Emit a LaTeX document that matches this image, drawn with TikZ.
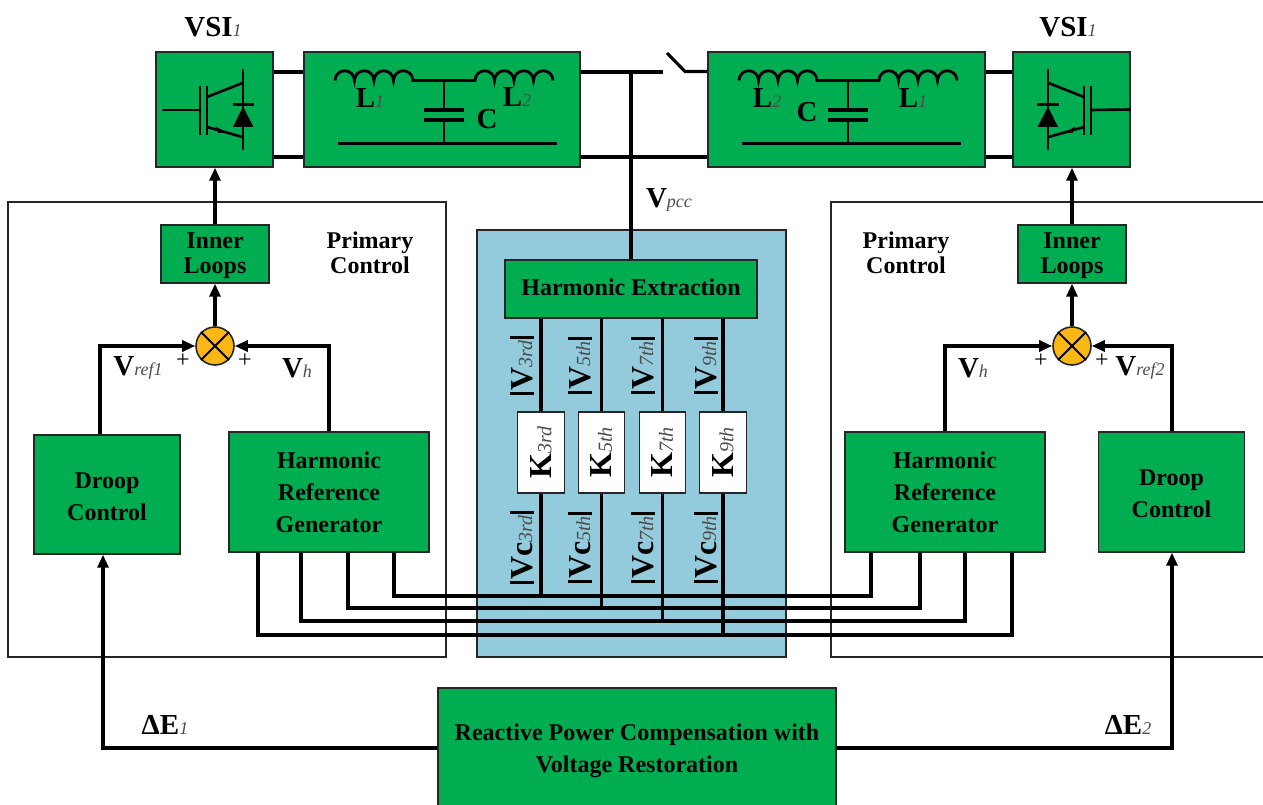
\documentclass[tikz,border=0pt]{standalone}
\usepackage{fontspec}
\setmainfont{Liberation Serif}
\usetikzlibrary{arrows.meta}
\definecolor{boxgreen}{HTML}{00AD50}
\definecolor{panelblue}{HTML}{93CBDC}
\definecolor{sumyellow}{HTML}{FBB815}
\newcommand{\lbl}[2]{{\fontsize{29}{29}\selectfont\bfseries #1}{\fontsize{18}{18}\selectfont\itshape\color{black!70}#2}}
\newcommand{\biglbl}[2]{{\fontsize{32}{32}\selectfont\bfseries #1}{\fontsize{20}{20}\selectfont\itshape\color{black!70}#2}}
\newcommand{\barlbl}[2]{\rule[-2pt]{3pt}{24pt}\kern1pt\biglbl{#1}{#2}\kern1pt\rule[-2pt]{3pt}{24pt}}
\tikzset{
    wire/.style={line width=3.1pt,line join=miter,>={Triangle[length=13pt,width=11pt]}},
    thinwire/.style={line width=1.5pt,black!85},
    gbox/.style={draw=black!85,fill=boxgreen,line width=1.4pt,inner sep=0pt,align=center,font=\fontsize{24}{32}\selectfont\bfseries},
    txt/.style={inner sep=0pt,align=center,font=\fontsize{24}{25}\selectfont\bfseries},
    plus/.style={inner sep=0pt,font=\fontsize{24}{24}\selectfont},
    sumnode/.style={circle,draw=black!85,fill=sumyellow,line width=1.6pt,minimum size=38pt,inner sep=0pt},
    igbt/.pic={
        \draw[line width=2.8pt] (-14.5,-23) -- (-14.5,25.5);
        \draw[line width=2.8pt] (-7.5,-23) -- (-7.5,25.5);
        \draw[line width=2.6pt] (-7.5,-12.5) -- (28,-26.5);
        \draw[line width=2.6pt] (-7.5,17.5) -- (28,27.5);
        \fill (12,23) -- (1,17) -- (4,23.5) -- cycle;
        \draw[line width=2.6pt] (28.5,-40.5) -- (28.5,40.5);
        \draw[line width=3pt] (18,-5) -- (39.5,-5);
        \fill (28.5,-3) -- (39,17.5) -- (18.5,17.5) -- cycle;
    },
    lcfilter/.pic={
        \draw[line width=2.8pt] (-107,-29)
            arc[start angle=180,end angle=360,radius=9.75]
            arc[start angle=180,end angle=360,radius=9.75]
            arc[start angle=180,end angle=360,radius=9.75]
            arc[start angle=180,end angle=360,radius=9.75]
            -- (33,-29)
            arc[start angle=180,end angle=360,radius=9.75]
            arc[start angle=180,end angle=360,radius=9.75]
            arc[start angle=180,end angle=360,radius=9.75]
            arc[start angle=180,end angle=360,radius=9.75];
        \draw[line width=2.4pt] (2,-29) -- (2,0.5);
        \draw[line width=2.4pt] (2,10.5) -- (2,34.5);
        \draw[line width=3.6pt] (-18,0.5) -- (22,0.5);
        \draw[line width=3.6pt] (-18,10.5) -- (22,10.5);
        \draw[line width=3pt] (-104,34.5) -- (115,34.5);
    }
}
\begin{document}
\begin{tikzpicture}[x=1pt,y=-1pt]
    \useasboundingbox (0,0) rectangle (1263,805);
    \draw[thinwire] (8,202) rectangle (446,657);
    \draw[thinwire] (1263,202) -- (831,202) -- (831,657) -- (1263,657);
    \draw[thinwire,fill=panelblue] (477,230) rectangle (786,657);

    \node[gbox,minimum width=117pt,minimum height=115pt] (vsil) at (214.5,109.5) {};
    \node[gbox,minimum width=276pt,minimum height=115pt] (fl) at (442,109.5) {};
    \node[gbox,minimum width=277pt,minimum height=115pt] (fr) at (846.5,109.5) {};
    \node[gbox,minimum width=117pt,minimum height=115pt] (vsir) at (1071.5,109.5) {};
    \pic at (214.5,109.5) {igbt};
    \pic[xscale=-1] at (1076.5,109.5) {igbt};
    \pic at (442,109.5) {lcfilter};
    \pic at (846,109.5) {lcfilter};
    \draw[line width=2.6pt] (162,110) -- (199,110);
    \draw[line width=2.6pt] (1092,110) -- (vsir.east);

    \node[inner sep=0pt] (tvsil) at (213,27) {\lbl{VSI}{1}};
    \node[inner sep=0pt] (tvsir) at (1068,27) {\lbl{VSI}{1}};
    \node[inner sep=0pt] (tl1) at (370,98) {\lbl{L}{1}};
    \node[inner sep=0pt] (tl2) at (517,97) {\lbl{L}{2}};
    \node[inner sep=0pt] (tc) at (487,119) {\lbl{C}{}};
    \node[inner sep=0pt] (tl2r) at (767,98) {\lbl{L}{2}};
    \node[inner sep=0pt] (tcr) at (807,112) {\lbl{C}{}};
    \node[inner sep=0pt] (tl1r) at (913,98) {\lbl{L}{1}};
    \node[inner sep=0pt] (tvpcc) at (669,200) {\lbl{V}{pcc}};

    \coordinate (busend) at (663,72);
    \coordinate (swtop) at (667,53);
    \coordinate (swpin) at (685,71.5);
    \foreach \y in {72,157}{
        \draw[wire] (vsil.east |- 0,\y) -- (fl.west |- 0,\y);
        \draw[wire] (fr.east |- 0,\y) -- (vsir.west |- 0,\y);
    }
    \draw[wire] (fl.east |- busend) -- (busend);
    \draw[wire] (swtop) -- (swpin) -- (fr.west |- swpin);
    \draw[wire] (fl.east |- 0,157) -- (fr.west |- 0,157);

    \node[gbox,minimum width=252pt,minimum height=58pt] (he) at (631,289) {Harmonic Extraction\rule[-4pt]{0pt}{4pt}};
    \draw[wire] (he.north) -- (he.north |- busend);

    \foreach \h/\xc/\xv/\xl/\xr/\yb in {3rd/541/522/394/871/596,5th/601.5/580/348/920/608,7th/662.5/643/301/965/621,9th/723/706/258/1012/635}{
        \node[draw=black!85,fill=white,line width=1.4pt,minimum width=46.5pt,minimum height=81pt,inner sep=0pt] (k\h) at (\xc,452.5) {\rotatebox{90}{\biglbl{K}{\h}}};
        \draw[wire] (he.south -| k\h.north) -- (k\h.north);
        \node[inner sep=0pt,rotate=90] (tv\h) at (\xv,365.5) {\barlbl{V}{\h}};
        \node[inner sep=0pt,rotate=90] (tvc\h) at (\xv,547.5) {\barlbl{Vc}{\h}};
    }

    \node[gbox,minimum width=108pt,minimum height=58pt,font=\fontsize{24}{25}\selectfont\bfseries] (ill) at (215,254) {\rule{0pt}{20pt}Inner\\Loops};
    \node[gbox,minimum width=108pt,minimum height=58pt,font=\fontsize{24}{25}\selectfont\bfseries] (ilr) at (1072,254) {\rule{0pt}{20pt}Inner\\Loops};
    \node[sumnode] (sl) at (215,346) {};
    \node[sumnode] (sr) at (1072,346) {};
    \foreach \s in {sl,sr}{
        \draw[line width=1.9pt] (\s.45) -- (\s.225);
        \draw[line width=1.9pt] (\s.135) -- (\s.315);
    }
    \node[gbox,minimum width=146pt,minimum height=119pt] (dcl) at (107,494.5) {\rule{0pt}{20pt}Droop\\Control};
    \node[gbox,minimum width=146pt,minimum height=120pt] (dcr) at (1171.5,492) {\rule{0pt}{20pt}Droop\\Control};
    \node[gbox,minimum width=200pt,minimum height=120pt] (hrgl) at (329,492) {Harmonic\\Reference\\Generator};
    \node[gbox,minimum width=200pt,minimum height=120pt] (hrgr) at (945,492) {Harmonic\\Reference\\Generator};
    \node[gbox,minimum width=398pt,minimum height=120pt] (rpc) at (637,748) {\rule{0pt}{22pt}Reactive Power Compensation with\\Voltage Restoration};

    \foreach \h/\xc/\xv/\xl/\xr/\yb in {3rd/541/522/394/871/596,5th/601.5/580/348/920/608,7th/662.5/643/301/965/621,9th/723/706/258/1012/635}{
        \draw[wire] (hrgl.south -| \xl,0) -- (\xl,\yb) -- (\xr,\yb) -- (hrgr.south -| \xr,0);
        \draw[wire] (k\h.south) -- (k\h.south |- 0,\yb);
    }

    \draw[wire,->] (ill.north) -- (ill.north |- vsil.south);
    \draw[wire,->] (ilr.north) -- (ilr.north |- vsir.south);
    \draw[wire,->] (sl.north) -- (ill.south);
    \draw[wire,->] (sr.north) -- (ilr.south);
    \draw[wire,->] (dcl.north -| 100,0) |- (sl.west);
    \draw[wire,->] (hrgl.north) |- (sl.east);
    \draw[wire,->] (hrgr.north) |- (sr.west);
    \draw[wire,->] (dcr.north -| 1172,0) |- (sr.east);
    \draw[wire,->] (rpc.west) -| (dcl.south -| 103,0);
    \draw[wire,->] (rpc.east) -| (dcr.south -| 1172,0);

    \node[txt] (tpl) at (370,253) {Primary\\Control};
    \node[txt] (tpr) at (906,253) {Primary\\Control};
    \node[plus] (pl1) at (183,361) {+};
    \node[plus] (pl2) at (245,361) {+};
    \node[plus] (pr1) at (1041,361) {+};
    \node[plus] (pr2) at (1102,361) {+};
    \node[inner sep=0pt] (tvr1) at (138,368) {\lbl{V}{ref1}};
    \node[inner sep=0pt] (tvhl) at (297,368) {\lbl{V}{h}};
    \node[inner sep=0pt] (tvhr) at (973,368) {\lbl{V}{h}};
    \node[inner sep=0pt] (tvr2) at (1140,368) {\lbl{V}{ref2}};
    \node[inner sep=0pt] (tde1) at (165,725) {\lbl{ΔE}{1}};
    \node[inner sep=0pt] (tde2) at (1128,725) {\lbl{ΔE}{2}};
\end{tikzpicture}
\end{document}
